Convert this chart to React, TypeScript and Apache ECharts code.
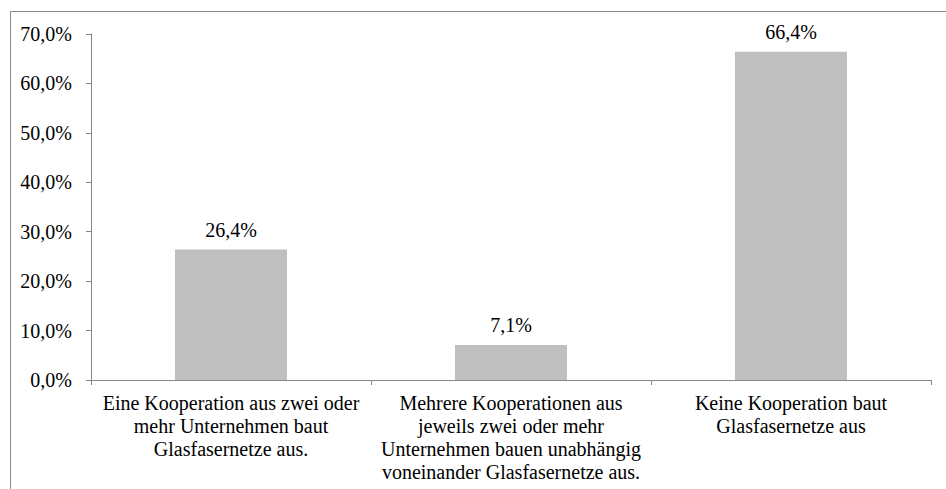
import React, { useEffect, useRef } from "react";
import * as echarts from "echarts";

const categories = [
  "Eine Kooperation aus zwei oder\nmehr Unternehmen baut\nGlasfasernetze aus.",
  "Mehrere Kooperationen aus\njeweils zwei oder mehr\nUnternehmen bauen unabhängig\nvoneinander Glasfasernetze aus.",
  "Keine Kooperation baut\nGlasfasernetze aus",
];
const values = [26.4, 7.1, 66.4];
const yTicks = { min: 0, max: 70, interval: 10 };

const fmt = (v: number) => v.toFixed(1).replace(".", ",") + "%";
const wrapRich = (s: string) =>
  s
    .split("\n")
    .map((line) => "{t|" + line + "}")
    .join("\n");

export default function App() {
  const ref = useRef<HTMLDivElement>(null);
  useEffect(() => {
    if (!ref.current) return;
    const chart = echarts.init(ref.current, null, { renderer: "svg" });
    const font = "serif";
    const rich = {
      t: { fontFamily: font, fontSize: 20, color: "#000", lineHeight: 23 },
    };
    chart.setOption({
      animation: false,
      textStyle: { fontFamily: font },
      graphic: [
        {
          type: "rect",
          shape: { x: 10.5, y: 11.5, width: 1000, height: 1000 },
          style: { fill: "none", stroke: "#888888", lineWidth: 1 },
          silent: true,
        },
      ],
      grid: { left: 91, top: 34, right: 15, bottom: 109 },
      xAxis: {
        type: "category",
        data: categories,
        axisLine: { lineStyle: { color: "#868686", width: 1 } },
        axisTick: { show: true, length: 5, lineStyle: { color: "#868686" } },
        axisLabel: {
          interval: 0,
          fontFamily: font,
          fontSize: 20,
          margin: 11,
          formatter: (v: string) => wrapRich(v),
          rich,
        },
      },
      yAxis: {
        type: "value",
        min: yTicks.min,
        max: yTicks.max,
        interval: yTicks.interval,
        splitLine: { show: false },
        axisLine: { show: true, lineStyle: { color: "#868686", width: 1 } },
        axisTick: { show: true, length: 5, lineStyle: { color: "#868686" } },
        axisLabel: {
          fontFamily: font,
          fontSize: 20,
          margin: 19,
          formatter: (v: number) => "{t|" + fmt(v) + "}",
          rich,
        },
      },
      series: [
        {
          type: "bar",
          data: values,
          barWidth: "40%",
          itemStyle: { color: "#bfbfbf" },
          label: {
            show: true,
            position: "top",
            distance: 8,
            fontFamily: font,
            fontSize: 20,
            formatter: (p: any) => "{t|" + fmt(p.value) + "}",
            rich,
          },
        },
      ],
    });
    return () => chart.dispose();
  }, []);
  return (
    <div
      ref={ref}
      style={{ position: "fixed", left: 0, top: 0, width: 946, height: 489, background: "#fff" }}
    />
  );
}
